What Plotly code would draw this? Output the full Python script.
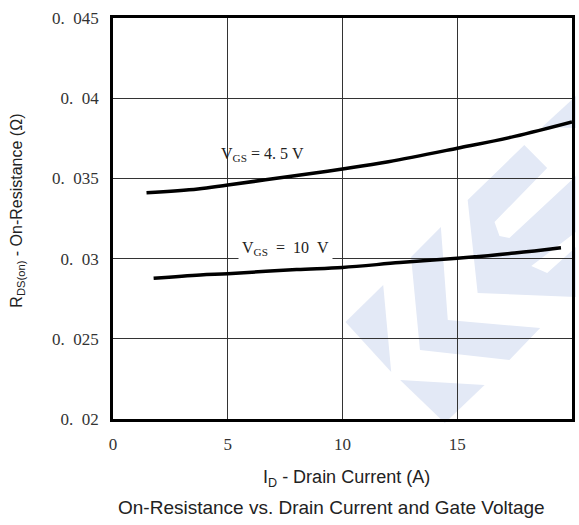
import plotly.graph_objects as go

# ---- data ----
id_45 = [1.46, 3.7, 5.0, 8.0, 10.0, 12.0, 15.0, 17.5, 20.0]
rds_45 = [0.03411, 0.03434, 0.03459, 0.03518, 0.03559, 0.03604, 0.03688, 0.03762, 0.03852]

id_10 = [1.77, 3.8, 5.0, 8.0, 10.0, 12.5, 15.0, 17.5, 19.52]
rds_10 = [0.02877, 0.02898, 0.02906, 0.02932, 0.02945, 0.02975, 0.03002, 0.03035, 0.03068]

x_ticks = [0, 5, 10, 15, 20]
x_ticktext = ["0", "5", "10", "15", "20"]
y_ticks = [0.02, 0.025, 0.03, 0.035, 0.04, 0.045]
y_ticktext = ["0.\u200202", "0.\u2002025", "0.\u200203", "0.\u2002035", "0.\u200204", "0.\u2002045"]

W, H = 579, 525
L, R, T, B = 113, 575, 18, 419  # plot area in pixels

SERIF = "Liberation Serif, Times New Roman, serif"
SANS = "Liberation Sans, Arial, sans-serif"

fig = go.Figure()
fig.add_trace(go.Scatter(x=id_45, y=rds_45, mode="lines",
                         line=dict(color="black", width=3.5, shape="spline"),
                         showlegend=False, hoverinfo="skip"))
fig.add_trace(go.Scatter(x=id_10, y=rds_10, mode="lines",
                         line=dict(color="black", width=3.5, shape="spline"),
                         showlegend=False, hoverinfo="skip"))

# ---- watermark (decorative logo) in pixel -> paper coordinates ----
def px(x, y):
    return (x - L) / (R - L), (B - y) / (B - T)

def path(pts):
    s = ""
    for i, (x, y) in enumerate(pts):
        u, v = px(x, y)
        s += ("M" if i == 0 else "L") + f"{u:.4f},{v:.4f} "
    return s + "Z"

wm = "#e3e9f6"
polys = [
    [(347, 322), (385, 285), (393, 372)],
    [(402, 380), (487, 385), (447, 423)],
    [(443, 227), (413, 257), (422, 350), (512, 360), (543, 328), (450, 320)],
    [(470, 200), (527, 145), (550, 168), (497, 222), (502, 236), (512, 238),
     (579, 176), (579, 232), (534, 266), (550, 273), (579, 247), (579, 297), (480, 293)],
    [(545, 127), (579, 96), (579, 128)],
]
shapes = [dict(type="path", xref="paper", yref="paper", path=path(p),
               fillcolor=wm, line=dict(width=0), layer="below") for p in polys]

def pp(x, y):
    u, v = px(x, y)
    return dict(x=u, y=v, xref="paper", yref="paper", xanchor="center", yanchor="middle")

annotations = [
    dict(x=6.5, y=0.03646, xref="x", yref="y", showarrow=False,
         text="V<sub>GS</sub>\u00a0=\u00a04.\u00a05\u00a0V",
         font=dict(family=SERIF, size=16, color="#222")),
    dict(x=7.53, y=0.03066, xref="x", yref="y", showarrow=False,
         text="V<sub>GS</sub>\u00a0\u00a0=\u00a0\u00a010\u00a0\u00a0V", bgcolor="white", borderpad=3,
         font=dict(family=SERIF, size=16, color="#222")),
    dict(**pp(16, 211), showarrow=False, textangle=-90,
         text="R<sub>DS(on)</sub> - On-Resistance (Ω)",
         font=dict(family=SANS, size=16, color="#222")),
    dict(**pp(348, 478), showarrow=False, text="I<sub>D</sub> - Drain Current (A)",
         font=dict(family=SANS, size=18, color="#222")),
    dict(**pp(333, 507), showarrow=False,
         text="On-Resistance vs. Drain Current and Gate Voltage",
         font=dict(family=SANS, size=19, color="#222")),
]

axis_common = dict(showline=True, mirror=True, linecolor="black", linewidth=2.5,
                   showgrid=True, gridcolor="#333333", gridwidth=1.2,
                   zeroline=False, ticks="",
                   tickfont=dict(family=SERIF, size=17, color="#333"))

fig.update_layout(
    width=W, height=H,
    margin=dict(l=L, r=W - R, t=T, b=H - B),
    paper_bgcolor="white", plot_bgcolor="rgba(0,0,0,0)",
    xaxis=dict(range=[0, 20], tickvals=x_ticks, ticktext=x_ticktext,
               ticklabelstandoff=8, **axis_common),
    yaxis=dict(range=[0.02, 0.045], tickvals=y_ticks, ticktext=y_ticktext,
               ticklabelstandoff=8, **axis_common),
    shapes=shapes, annotations=annotations,
)

fig.write_html("out.html")
